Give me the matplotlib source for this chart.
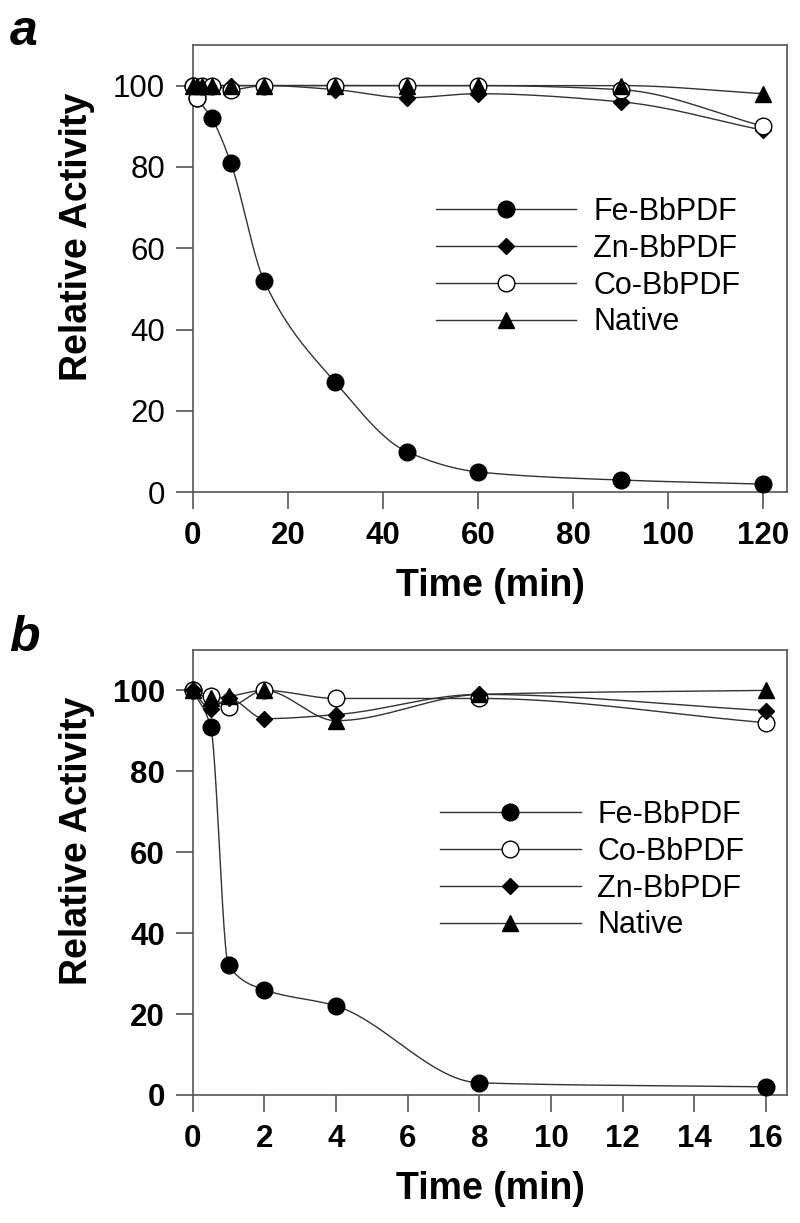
import numpy as np
import matplotlib
matplotlib.use("Agg")
import matplotlib.pyplot as plt

plt.rcParams['font.family'] = ['Liberation Sans', 'DejaVu Sans']

# panel a: long incubation (min)
time_a = [0, 1, 2, 4, 8, 15, 30, 45, 60, 90, 120]
fe_time_a = [0, 1, 4, 8, 15, 30, 45, 60, 90, 120]
fe_a = [100, 97, 92, 81, 52, 27, 10, 5, 3, 2]
zn_a = [100, 98, 100, 100, 100, 100, 99, 97, 98, 96, 89]
co_a = [100, 97, 100, 100, 99, 100, 100, 100, 100, 99, 90]
native_a = [100, 100, 100, 100, 100, 100, 100, 100, 100, 100, 98]

# panel b: short incubation (min)
time_b = [0, 0.5, 1, 2, 4, 8, 16]
fe_b = [100, 91, 32, 26, 22, 3, 2]
co_b = [100, 98.5, 96, 100, 98, 98, 92]
zn_b = [100, 95.5, 98, 93, 94, 99, 95]
native_b = [100, 98, 98.5, 100, 92.5, 99, 100]

ticks_a = [0, 20, 40, 60, 80, 100, 120]
ticks_b = [0, 2, 4, 6, 8, 10, 12, 14, 16]
yticks = [0, 20, 40, 60, 80, 100]

LINE = '#333333'


def smooth(x, y, n=40):
    # monotone cubic hermite, only used to draw the connecting curve
    x = np.asarray(x, float)
    y = np.asarray(y, float)
    h = np.diff(x)
    d = np.diff(y) / h
    m = np.zeros_like(y)
    m[0], m[-1] = d[0], d[-1]
    for k in range(1, len(x) - 1):
        if d[k - 1] * d[k] <= 0:
            m[k] = 0
        else:
            w1 = 2 * h[k] + h[k - 1]
            w2 = h[k] + 2 * h[k - 1]
            m[k] = (w1 + w2) / (w1 / d[k - 1] + w2 / d[k])
    xs, ys = [], []
    t = np.linspace(0, 1, n)
    for k in range(len(h)):
        h00 = 2 * t**3 - 3 * t**2 + 1
        h10 = t**3 - 2 * t**2 + t
        h01 = -2 * t**3 + 3 * t**2
        h11 = t**3 - t**2
        xs.append(x[k] + t * h[k])
        ys.append(h00 * y[k] + h10 * h[k] * m[k] + h01 * y[k + 1] + h11 * h[k] * m[k + 1])
    return np.concatenate(xs), np.concatenate(ys)


def series(ax, x, y, marker, face, ms, label):
    sx, sy = smooth(x, y)
    ax.plot(sx, sy, color=LINE, lw=1.0, clip_on=False, zorder=2)
    ax.plot(x, y, ls='none', marker=marker, mfc=face, mec='black', mew=1.0,
            ms=ms, clip_on=False, zorder=3)
    # proxy for the legend
    ax.plot([], [], color=LINE, lw=1.0, marker=marker, mfc=face, mec='black',
            mew=1.0, ms=ms, label=label)


def style(ax, xmax, xticks, ybold):
    ax.set_xlim(0, xmax)
    ax.set_ylim(0, 110)
    ax.set_xticks(xticks)
    ax.set_yticks(yticks)
    for s in ax.spines.values():
        s.set_color('#555555')
        s.set_linewidth(1.2)
    ax.tick_params(direction='out', length=12, width=1.2, color='#555555',
                   labelsize=22.5, top=False, right=False)
    ax.tick_params(axis='x', pad=9)
    ax.tick_params(axis='y', pad=8)
    for lab in ax.get_xticklabels():
        lab.set_fontweight('bold')
    for lab in ax.get_yticklabels():
        lab.set_fontweight('bold' if ybold else 'normal')
    ax.set_xlabel('Time (min)', fontsize=27, fontweight='bold', labelpad=12)
    ax.set_ylabel('Relative Activity', fontsize=27, fontweight='bold', labelpad=13)
    ax.yaxis.label.set_y(0.57)


fig = plt.figure(figsize=(8, 12.23), dpi=100)
ax_a = fig.add_axes([0.2409, 0.5975, 0.7432, 0.3658])
ax_b = fig.add_axes([0.2409, 0.1047, 0.7432, 0.3639])

series(ax_a, fe_time_a, fe_a, 'o', 'black', 12, 'Fe-BbPDF')
series(ax_a, time_a, zn_a, 'D', 'black', 8.5, 'Zn-BbPDF')
series(ax_a, time_a, co_a, 'o', 'white', 12, 'Co-BbPDF')
series(ax_a, time_a, native_a, '^', 'black', 12, 'Native')
style(ax_a, 125, ticks_a, ybold=False)

series(ax_b, time_b, fe_b, 'o', 'black', 12, 'Fe-BbPDF')
series(ax_b, time_b, co_b, 'o', 'white', 12, 'Co-BbPDF')
series(ax_b, time_b, zn_b, 'D', 'black', 8.5, 'Zn-BbPDF')
series(ax_b, time_b, native_b, '^', 'black', 12, 'Native')
style(ax_b, 16.6, ticks_b, ybold=True)

for ax, x0, yc in [(ax_a, 0.409, 0.503), (ax_b, 0.416, 0.505)]:
    ax.legend(loc='center left', bbox_to_anchor=(x0, yc), frameon=False,
              fontsize=22, handlelength=4.6, handletextpad=0.55,
              labelspacing=0.22, borderpad=0, borderaxespad=0)

fig.text(0.012, 0.963, 'a', fontsize=36, fontweight='bold', style='italic')
fig.text(0.012, 0.468, 'b', fontsize=36, fontweight='bold', style='italic')

fig.savefig('out.png', dpi=100)
